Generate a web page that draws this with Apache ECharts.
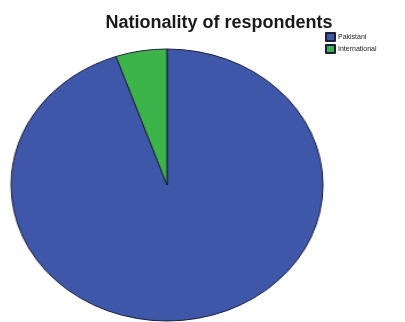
<!DOCTYPE html>
<html>
<head>
<meta charset="utf-8">
<script src="https://cdn.jsdelivr.net/npm/echarts@6/dist/echarts.min.js"></script>
<style>
html,body{margin:0;padding:0;background:#fff;overflow:hidden;}
#pie{position:absolute;left:0;top:0;width:405px;height:322px;transform-origin:167px 185px;transform:scaleX(1.147);}
#top{position:absolute;left:0;top:0;width:405px;height:322px;}
</style>
</head>
<body>
<div id="pie"></div>
<div id="top"></div>
<script>
const categories = ['Pakistani', 'International'];
const values = [94.7, 5.3];
const colors = ['#3f57a9', '#3db449'];
const titleText = 'Nationality of respondents';

const pieData = categories.map((c, i) => ({ name: c, value: values[i], itemStyle: { color: colors[i] } }));

const pieChart = echarts.init(document.getElementById('pie'), null, { renderer: 'canvas' });
pieChart.setOption({
  animation: false,
  backgroundColor: 'transparent',
  series: [{
    type: 'pie',
    center: [167, 185],
    radius: 136,
    startAngle: 90,
    clockwise: true,
    label: { show: false },
    labelLine: { show: false },
    emphasis: { disabled: true },
    itemStyle: { borderColor: '#1c1f3a', borderWidth: 1 },
    data: pieData
  }]
});

const topChart = echarts.init(document.getElementById('top'), null, { renderer: 'canvas' });
topChart.setOption({
  animation: false,
  backgroundColor: 'transparent',
  title: {
    text: titleText,
    left: 219,
    textAlign: 'center',
    top: 14,
    padding: 0,
    textStyle: { fontFamily: 'Liberation Sans, Arial, sans-serif', fontSize: 18, fontWeight: 'bold', color: '#1a1a1a' }
  },
  legend: {
    orient: 'vertical',
    left: 325,
    top: 32,
    padding: 0,
    itemWidth: 9,
    itemHeight: 8,
    itemGap: 2,
    icon: 'rect',
    textStyle: { fontFamily: 'Liberation Sans, Arial, sans-serif', fontSize: 7, color: '#222', padding: [0, 0, 0, -2] },
    data: categories
  },
  series: [{
    type: 'pie',
    center: [-500, -500],
    radius: 1,
    silent: true,
    label: { show: false },
    labelLine: { show: false },
    itemStyle: { borderColor: '#1c1f3a', borderWidth: 1 },
    data: pieData
  }]
});
</script>
</body>
</html>
